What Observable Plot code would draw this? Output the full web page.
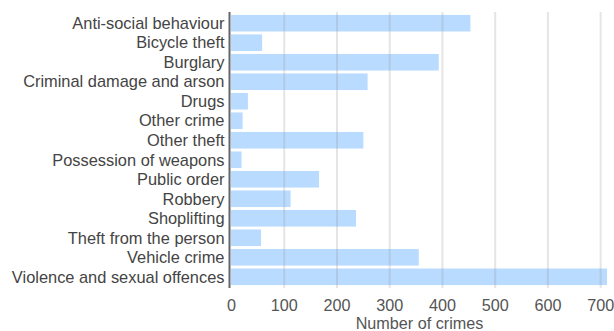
<!DOCTYPE html>
<html>
<head>
<meta charset="utf-8">
<script src="https://cdn.jsdelivr.net/npm/d3@7"></script>
<script src="https://cdn.jsdelivr.net/npm/@observablehq/plot@0.6"></script>
<style>
  html, body { margin: 0; padding: 0; background: #fff; }
  #chart { width: 614px; height: 331px; }
</style>
</head>
<body>
<div id="chart"></div>
<script>
const categories = [
  "Anti-social behaviour",
  "Bicycle theft",
  "Burglary",
  "Criminal damage and arson",
  "Drugs",
  "Other crime",
  "Other theft",
  "Possession of weapons",
  "Public order",
  "Robbery",
  "Shoplifting",
  "Theft from the person",
  "Vehicle crime",
  "Violence and sexual offences"
];
const counts = [454, 59, 394, 259, 32, 22, 251, 20, 167, 113, 237, 57, 356, 713];
const xTicks = [0, 100, 200, 300, 400, 500, 600, 700];
const xLabel = "Number of crimes";

const data = categories.map((c, i) => ({category: c, count: counts[i]}));

const chart = Plot.plot({
  width: 614,
  height: 331,
  marginLeft: 231,
  marginRight: 7,
  marginTop: 12,
  marginBottom: 43,
  style: {fontFamily: "'Liberation Sans', Arial, sans-serif", fontSize: "16px", color: "#444", background: "#fff"},
  x: {domain: [0, 713], ticks: xTicks, label: null},
  y: {domain: categories, padding: 0.15, round: false, label: null},
  marks: [
    Plot.barX(data, {y: "category", x: "count", fill: "#b8dbff"}),
    Plot.gridX(xTicks.filter(d => d > 0), {stroke: "#999", strokeOpacity: 0.25, strokeWidth: 2}),
    Plot.ruleX([0], {stroke: "#666", strokeWidth: 2, dx: -2}),
    Plot.axisY({tickSize: 0, tickPadding: 7, fill: "#444", fontSize: 16.4}),
    Plot.axisX({ticks: xTicks, tickSize: 0, tickPadding: 10.5, fill: "#555", fontSize: 16.2, label: null}),
    Plot.text([xLabel], {frameAnchor: "bottom", dy: 40.5, fill: "#555", fontSize: 16.2})
  ]
});
document.getElementById("chart").appendChild(chart);
</script>
</body>
</html>
